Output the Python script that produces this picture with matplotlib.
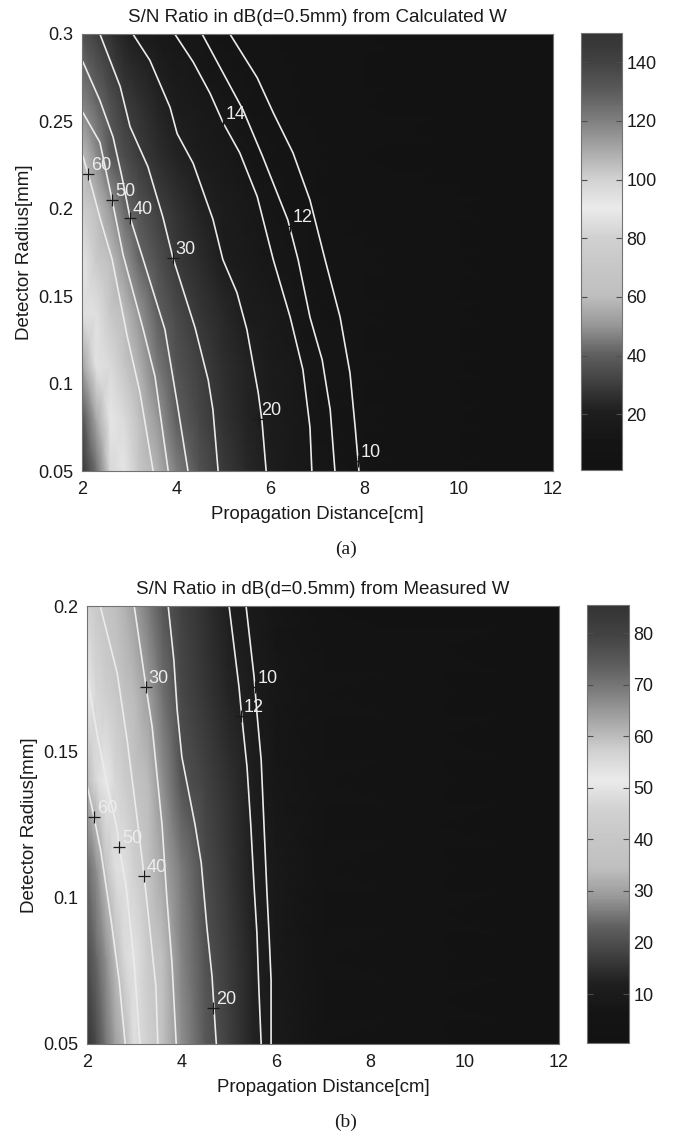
import numpy as np
import matplotlib
matplotlib.use("Agg")
import matplotlib.pyplot as plt
from matplotlib.colors import LinearSegmentedColormap

plt.rcParams['font.family'] = ['Liberation Sans', 'DejaVu Sans']

# gray levels of the colorbar, bottom to top
cmap_gray = [0.07, 0.08, 0.12, 0.25, 0.38, 0.60, 0.75, 0.78, 0.82, 0.92, 0.82, 0.66, 0.50, 0.36, 0.26, 0.20]

# panel (a) field
dist_a = [2, 2.3, 2.6, 2.9, 3.2, 3.6, 4, 4.5, 5, 5.5, 6, 6.5, 7, 8, 10, 12]
radius_a = [0.05, 0.08, 0.11, 0.14, 0.17, 0.2, 0.23, 0.26, 0.3]
snr_a = [
    [150, 125, 98, 88, 72, 57, 46, 36, 29, 24, 19.5, 16, 13.5, 9.5, 5, 2],
    [135, 110, 92, 84, 65, 51, 40, 33, 27, 22.5, 18.5, 15.5, 13, 9.5, 5, 2],
    [112, 94, 84, 70, 57, 45, 37, 31, 26, 22, 17.5, 15, 12.3, 9, 5, 2],
    [95, 86, 72, 60, 50, 40, 34, 28, 24, 19, 16.5, 13.8, 11.5, 8.5, 5, 2],
    [88, 74, 61, 50, 42, 36, 29.5, 25, 20, 17, 14.3, 12.3, 10.8, 7.5, 4.5, 2],
    [78, 62, 51, 42, 37, 31, 27, 22, 18, 15.3, 13, 11.2, 9.3, 6.5, 4, 2],
    [61, 49, 39, 35, 30, 26, 22.5, 19, 15.5, 13.2, 11.6, 9.6, 8.3, 6, 3.5, 1.5],
    [47, 42, 36, 30, 27, 23, 19, 16, 13.5, 11.6, 9.6, 8, 7, 5, 3, 1.5],
    [36, 31, 27, 22, 19, 16, 14, 12.2, 10.5, 9, 8, 7, 6, 4, 2.5, 1],
]

# panel (a) contours: level -> (distance, radius)
contours_a = {
    10: ([5.14, 5.72, 6.06, 6.48, 6.84, 7.16, 7.48, 7.69, 7.80, 7.88],
         [0.3, 0.275, 0.255, 0.232, 0.205, 0.171, 0.138, 0.106, 0.075, 0.05]),
    12: ([4.55, 4.99, 5.42, 5.84, 6.37, 6.59, 6.84, 7.10, 7.27, 7.37],
         [0.3, 0.278, 0.2565, 0.2296, 0.1936, 0.1707, 0.138, 0.1135, 0.085, 0.05]),
    14: ([3.97, 4.36, 4.72, 5.0, 5.35, 5.72, 6.06, 6.42, 6.69, 6.84, 6.88],
         [0.3, 0.284, 0.266, 0.249, 0.232, 0.207, 0.171, 0.138, 0.108, 0.075, 0.05]),
    20: ([3.08, 3.44, 3.87, 4.02, 4.36, 4.78, 4.99, 5.29, 5.50, 5.74, 5.82, 5.91],
         [0.3, 0.285, 0.258, 0.243, 0.226, 0.194, 0.171, 0.152, 0.131, 0.095, 0.079, 0.05]),
    30: ([2.38, 2.81, 3.02, 3.40, 3.72, 3.93, 4.40, 4.68, 4.78, 4.89],
         [0.3, 0.270, 0.247, 0.224, 0.195, 0.172, 0.132, 0.102, 0.085, 0.05]),
    40: ([2.02, 2.38, 2.66, 2.85, 3.02, 3.30, 3.76, 4.02, 4.25],
         [0.284, 0.262, 0.241, 0.218, 0.195, 0.171, 0.131, 0.089, 0.05]),
    50: ([2.02, 2.38, 2.64, 2.87, 3.30, 3.55, 3.83],
         [0.255, 0.238, 0.205, 0.174, 0.131, 0.104, 0.05]),
    60: ([2.02, 2.13, 2.38, 2.64, 2.96, 3.23, 3.51],
         [0.230, 0.220, 0.195, 0.171, 0.127, 0.095, 0.05]),
}
# where each contour is labelled
marks_a = {60: (2.13, 0.22), 50: (2.64, 0.205), 40: (3.02, 0.195), 30: (3.93, 0.172),
           20: (5.74, 0.08), 14: (5.0, 0.249), 12: (6.42, 0.19), 10: (7.86, 0.056)}

# panel (b) field
dist_b = [2, 2.2, 2.4, 2.6, 2.8, 3, 3.3, 3.6, 4, 4.5, 5, 5.5, 5.7, 6, 7, 12]
radius_b = [0.05, 0.08, 0.11, 0.14, 0.17, 0.2]
snr_b = [
    [85, 78, 70, 64, 60.3, 54, 45, 37, 28, 22, 17.5, 13, 11.9, 9.5, 6, 1],
    [78, 72, 66, 60, 55, 49.5, 42, 35, 27, 21, 17, 13, 11.3, 9, 5.5, 1],
    [72, 66, 59, 54, 49, 45, 37.5, 31, 26, 19.5, 16, 12.1, 10.8, 8.5, 5, 1],
    [60.5, 55, 51, 47, 43, 39, 34, 28, 21, 18, 15, 11.6, 10.1, 8, 5, 1],
    [51, 47, 44, 41, 37, 34, 29.5, 25, 19, 16, 13, 10.4, 9.5, 7.5, 4.5, 1],
    [46, 41.5, 38, 35, 32.5, 30, 26, 21.5, 18, 15, 12, 9.5, 8.8, 7, 4, 1],
]

contours_b = {
    10: ([5.37, 5.54, 5.60, 5.69, 5.75, 5.81, 5.86, 5.90, 5.90],
         [0.2, 0.1757, 0.1634, 0.1473, 0.125, 0.1027, 0.0866, 0.0719, 0.05]),
    12: ([5.01, 5.22, 5.28, 5.39, 5.47, 5.54, 5.60, 5.64, 5.69],
         [0.2, 0.1723, 0.162, 0.1449, 0.125, 0.1038, 0.088, 0.0695, 0.05]),
    20: ([3.72, 3.84, 3.91, 4.01, 4.29, 4.42, 4.54, 4.65, 4.69, 4.74],
         [0.2, 0.1815, 0.1644, 0.1483, 0.125, 0.112, 0.09, 0.073, 0.0623, 0.05]),
    30: ([3.0, 3.25, 3.38, 3.59, 3.69, 3.80, 3.89],
         [0.2, 0.1723, 0.1586, 0.125, 0.1003, 0.0777, 0.05]),
    40: ([2.28, 2.64, 2.85, 3.10, 3.21, 3.31, 3.46, 3.50],
         [0.2, 0.177, 0.1541, 0.1223, 0.1075, 0.0925, 0.0695, 0.05]),
    50: ([2.02, 2.21, 2.42, 2.64, 2.68, 2.83, 3.0, 3.12],
         [0.1747, 0.1565, 0.1394, 0.1233, 0.1175, 0.1038, 0.0777, 0.05]),
    60: ([2.0, 2.15, 2.30, 2.51, 2.68, 2.81],
         [0.1387, 0.1277, 0.1154, 0.0925, 0.0719, 0.05]),
}
marks_b = {60: (2.15, 0.1277), 50: (2.68, 0.1175), 40: (3.21, 0.1075), 30: (3.25, 0.1723),
           20: (4.67, 0.0623), 12: (5.26, 0.1623), 10: (5.56, 0.1723)}

x_ticks = [2, 4, 6, 8, 10, 12]
y_ticks_a = [0.05, 0.1, 0.15, 0.2, 0.25, 0.3]
y_labels_a = ["0.05", "0.1", "0.15", "0.2", "0.25", "0.3"]
y_ticks_b = [0.05, 0.1, 0.15, 0.2]
y_labels_b = ["0.05", "0.1", "0.15", "0.2"]
bar_ticks_a = [20, 40, 60, 80, 100, 120, 140]
bar_ticks_b = [10, 20, 30, 40, 50, 60, 70, 80]

W, H = 677, 1136
cmap = LinearSegmentedColormap.from_list("printed", [str(g) for g in cmap_gray])


def box(left, top, right, bottom):
    return [left / W, 1 - bottom / H, (right - left) / W, (bottom - top) / H]


def panel(rect, bar_rect, dist, radius, snr, contours, marks, vlim, yt, yl, bt, title):
    ax = fig.add_axes(box(*rect))
    mesh = ax.pcolormesh(dist, radius, np.array(snr), cmap=cmap, shading="gouraud",
                         vmin=vlim[0], vmax=vlim[1])
    for level in contours:
        xs, ys = contours[level]
        ax.plot(xs, ys, color="0.92", lw=1.2)
    for level, (mx, my) in marks.items():
        ax.plot(mx, my, "+", color="0.1", ms=8.5, mew=0.9)
        ax.annotate(str(level), (mx, my), xytext=(2, 0), textcoords="offset points",
                    color="0.93", fontsize=13, ha="left", va="bottom")
    ax.set_xlim(2, 12)
    ax.set_ylim(radius[0], radius[-1])
    ax.set_xticks(x_ticks)
    ax.set_yticks(yt)
    ax.set_yticklabels(yl)
    ax.tick_params(direction="in", length=0, labelsize=13, colors="0.1")
    ax.tick_params(axis="x", pad=7)
    ax.tick_params(axis="y", pad=6)
    ax.set_xlabel("Propagation Distance[cm]", fontsize=13.4, labelpad=6, color="0.1")
    ax.set_ylabel("Detector Radius[mm]", fontsize=13.5, labelpad=4, color="0.1")
    ax.set_title(title, fontsize=13.5, pad=9, color="0.1")
    for s in ax.spines.values():
        s.set_color("0.45")

    cax = fig.add_axes(box(*bar_rect))
    cb = fig.colorbar(mesh, cax=cax)
    cb.set_ticks(bt)
    cax.tick_params(direction="in", length=4, width=0.8, color="0.3", left=True, right=True,
                    labelsize=13, pad=3, labelcolor="0.1")
    cb.outline.set_edgecolor("0.45")


fig = plt.figure(figsize=(W / 100, H / 100), dpi=100)

panel((82, 34, 553, 471), (581, 33, 622, 470), dist_a, radius_a, snr_a, contours_a, marks_a,
      (1, 150), y_ticks_a, y_labels_a, bar_ticks_a, "S/N Ratio in dB(d=0.5mm) from Calculated W")
panel((87, 606, 559, 1044), (587, 605, 629, 1043), dist_b, radius_b, snr_b, contours_b, marks_b,
      (0.5, 85.5), y_ticks_b, y_labels_b, bar_ticks_b, "S/N Ratio in dB(d=0.5mm) from Measured W")

fig.text(346 / W, 1 - 549 / H, "(a)", family="Liberation Serif", fontsize=14,
         ha="center", va="center", color="0.1")
fig.text(346 / W, 1 - 1122 / H, "(b)", family="Liberation Serif", fontsize=14,
         ha="center", va="center", color="0.1")

fig.savefig("out.png", dpi=100)
